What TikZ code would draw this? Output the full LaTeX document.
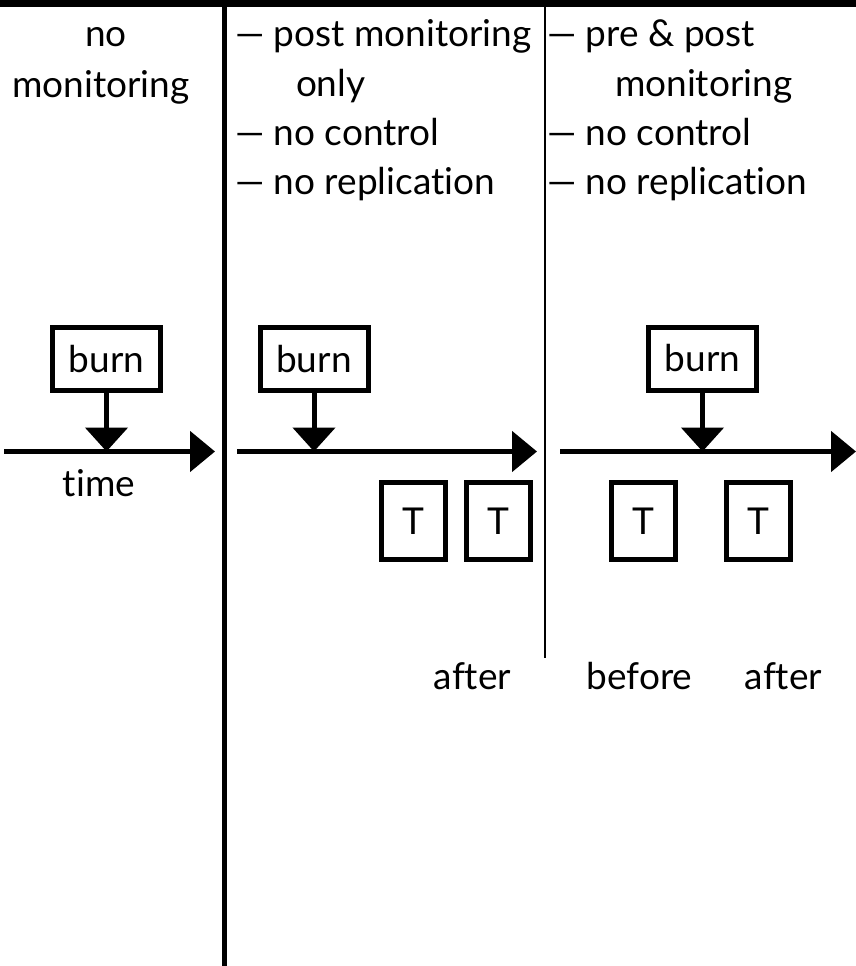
\documentclass[tikz,border=0pt]{standalone}
\usepackage{fontspec}
\setmainfont{Lato}[Ligatures=NoCommon]
\usetikzlibrary{arrows.meta}
\begin{document}
\begin{tikzpicture}[x=1pt,y=-1pt,
  lbl/.style={font=\fontsize{37}{44}\selectfont, inner sep=0pt, outer sep=0pt},
  box/.style={draw, line width=5pt, inner sep=0pt, font=\fontsize{37}{44}\selectfont},
  burnbox/.style={box, minimum width=108pt, minimum height=63pt},
  tbox/.style={box, minimum width=64pt, minimum height=77pt},
  timeaxis/.style={line width=5pt, -{Triangle[length=25pt,width=40pt]}},
  hit/.style={line width=5pt, -{Triangle[length=24pt,width=42pt]}},
  divider/.style={line width=5pt},
  thindivider/.style={line width=1.5pt},
]
\useasboundingbox (0,0) rectangle (856,966);
\fill[white] (0,0) rectangle (856,966);

% top rule and column dividers
\fill[black] (0,0) rectangle (856,7);
\draw[divider] (224.5,0) -- (224.5,966);
\draw[thindivider] (545,0) -- (545,658);

% column headings
\node[lbl, anchor=base] (h0a) at (106,47) {no};
\node[lbl, anchor=base] (h0b) at (101,97) {monitoring};

\node[lbl, anchor=base west] (h1a) at (235,47) {— post monitoring};
\node[lbl, anchor=base west] (h1b) at (296,96) {only};
\node[lbl, anchor=base west] (h1c) at (235,145) {— no control};
\node[lbl, anchor=base west] (h1d) at (235,194) {— no replication};

\node[lbl, anchor=base west] (h2a) at (547,47) {— pre \& post};
\node[lbl, anchor=base west] (h2b) at (615,96) {monitoring};
\node[lbl, anchor=base west] (h2c) at (547,145) {— no control};
\node[lbl, anchor=base west] (h2d) at (547,194) {— no replication};

% time axes
\coordinate (a0s) at (4,451.5);
\coordinate (a0e) at (215,451.5);
\coordinate (a1s) at (237,451.5);
\coordinate (a1e) at (537,451.5);
\coordinate (a2s) at (560,451.5);
\coordinate (a2e) at (856,451.5);
\draw[timeaxis] (a0s) -- (a0e);
\draw[timeaxis] (a1s) -- (a1e);
\draw[timeaxis] (a2s) -- (a2e);

% burn events
\node[burnbox] (b0) at (106.5,359) {burn};
\node[burnbox] (b1) at (314,359) {burn};
\node[burnbox] (b2) at (702.5,358.5) {burn};
\draw[hit] (b0.south) -- (b0.south |- a0s);
\draw[hit] (b1.south) -- (b1.south |- a1s);
\draw[hit] (b2.south) -- (b2.south |- a2s);

% sampling times
\node[tbox] (t1) at (413.5,521) {T};
\node[tbox] (t2) at (498.5,521) {T};
\node[tbox] (t3) at (643.5,521) {T};
\node[tbox] (t4) at (758.5,521) {T};

% axis and period labels
\node[lbl, anchor=base] (time) at (99,496) {time};
\node[lbl, anchor=base] (l1) at (472.5,689) {after};
\node[lbl, anchor=base] (l2) at (639.5,689) {before};
\node[lbl, anchor=base] (l3) at (783.5,689) {after};
\end{tikzpicture}
\end{document}
